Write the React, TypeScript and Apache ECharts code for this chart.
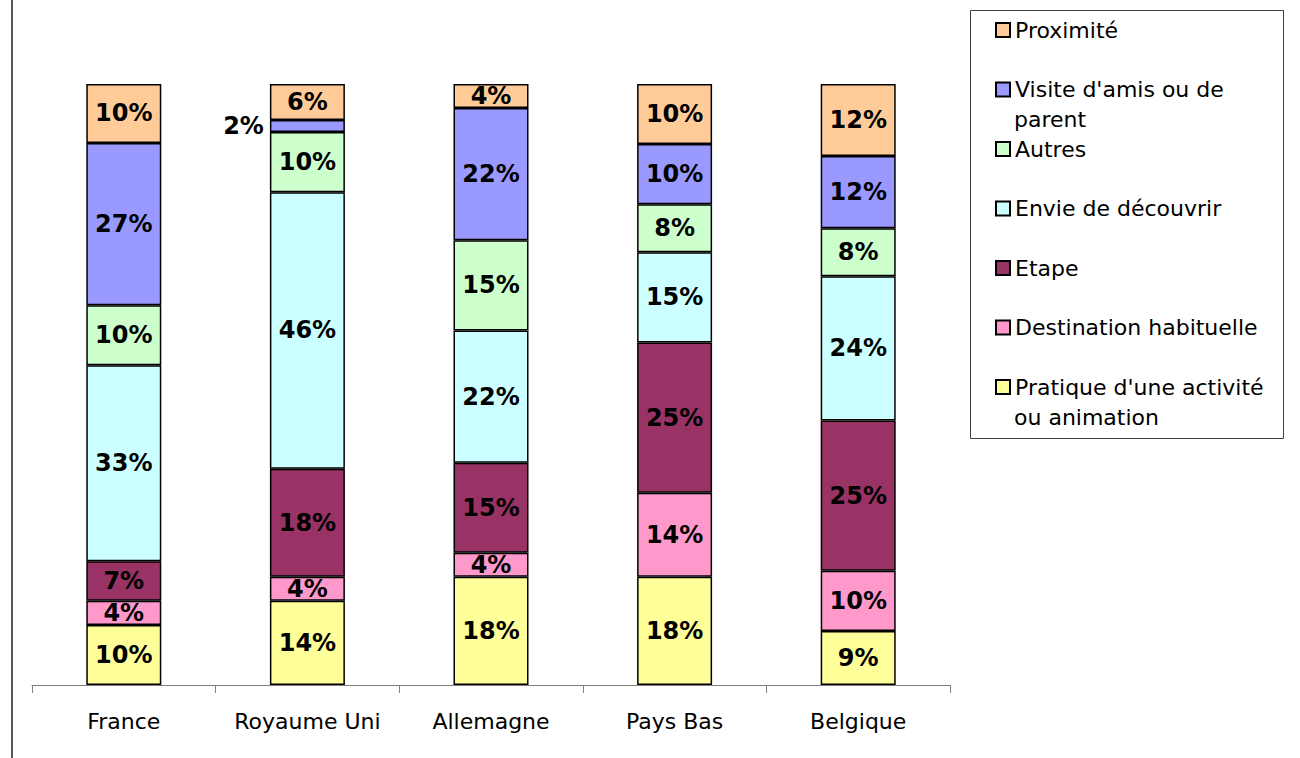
import React, { useEffect, useRef } from "react";
import * as echarts from "echarts";

const categories = ["France", "Royaume Uni", "Allemagne", "Pays Bas", "Belgique"];

// bottom -> top stacking order
const seriesNames = [
  "Pratique d'une activité ou animation",
  "Destination habituelle",
  "Etape",
  "Envie de découvrir",
  "Autres",
  "Visite d'amis ou de parent",
  "Proximité",
];

const pratique = [10.0, 14, 18, 18, 9];
const destination = [4.0, 4, 4, 14, 10];
const etape = [6.6, 18, 15, 25, 25];
const envie = [32.6, 46, 22, 15, 24];
const autres = [10.0, 10, 15, 8, 8];
const visite = [27.0, 2, 22, 10, 12];
const proximite = [9.8, 6, 4, 10, 12];

const seriesValues = [pratique, destination, etape, envie, autres, visite, proximite];

const seriesColors = ["#FFFF99", "#FF99CC", "#993366", "#CCFFFF", "#CCFFCC", "#9999FF", "#FFCC99"];

// legend top -> bottom, with first-line display text
const legendOrder = [
  "Proximité",
  "Visite d'amis ou de parent",
  "Autres",
  "Envie de découvrir",
  "Etape",
  "Destination habituelle",
  "Pratique d'une activité ou animation",
];
const legendFirstLine: Record<string, string> = {
  "Visite d'amis ou de parent": "Visite d'amis ou de",
  "Pratique d'une activité ou animation": "Pratique d'une activité",
};

const FONT = "DejaVu Sans";

export default function App() {
  const ref = useRef<HTMLDivElement>(null);

  useEffect(() => {
    if (!ref.current) return;
    const chart = echarts.init(ref.current, undefined, { renderer: "svg" });

    const series = seriesNames.map((name, si) => ({
      name,
      type: "bar",
      stack: "total",
      barWidth: 75,
      itemStyle: { color: seriesColors[si], borderColor: "#000", borderWidth: 1.5 },
      label: {
        show: true,
        position: "inside",
        color: "#000",
        fontFamily: FONT,
        fontWeight: "bold",
        fontSize: 24,
        formatter: (p: any) => Math.round(p.value) + "%",
      },
      data: seriesValues[si].map((v, ci) =>
        name === "Visite d'amis ou de parent" && ci === 1
          ? { value: v, label: { position: "left", distance: 6 } }
          : v
      ),
    }));

    chart.setOption({
      animation: false,
      textStyle: { fontFamily: FONT },
      grid: { left: 32, right: 350, top: 84, bottom: 73, containLabel: false },
      xAxis: {
        type: "category",
        data: categories,
        axisLine: { lineStyle: { color: "#808080", width: 1 } },
        axisTick: { show: true, length: 8, lineStyle: { color: "#808080" } },
        axisLabel: { color: "#000", fontSize: 22, fontFamily: FONT, margin: 25, interval: 0 },
      },
      yAxis: {
        type: "value",
        min: 0,
        max: 100,
        show: false,
        splitLine: { show: false },
      },
      legend: {
        orient: "vertical",
        left: 995,
        top: 15,
        padding: 0,
        icon: "rect",
        itemWidth: 14,
        itemHeight: 14,
        itemGap: 29.5,
        data: legendOrder,
        selectedMode: false,
        textStyle: { fontFamily: FONT, fontSize: 22, color: "#000", lineHeight: 30 },
        formatter: (name: string) => legendFirstLine[name] || name,
      },
      graphic: [
        {
          type: "rect",
          shape: { x: 970.5, y: 10.5, width: 313, height: 428 },
          style: { fill: "none", stroke: "#404040", lineWidth: 1 },
          silent: true,
        },
        {
          type: "text",
          x: 1014,
          y: 119,
          style: { text: "parent", font: `22px "${FONT}"`, fill: "#000", verticalAlign: "middle" },
        },
        {
          type: "text",
          x: 1014,
          y: 417,
          style: { text: "ou animation", font: `22px "${FONT}"`, fill: "#000", verticalAlign: "middle" },
        },
        {
          type: "line",
          shape: { x1: 12, y1: 0, x2: 12, y2: 758 },
          style: { stroke: "#555", lineWidth: 2 },
          silent: true,
        },
      ],
      series,
    });

    return () => chart.dispose();
  }, []);

  return (
    <div
      ref={ref}
      style={{ position: "absolute", left: 0, top: 0, width: 1300, height: 758, background: "#fff" }}
    />
  );
}
